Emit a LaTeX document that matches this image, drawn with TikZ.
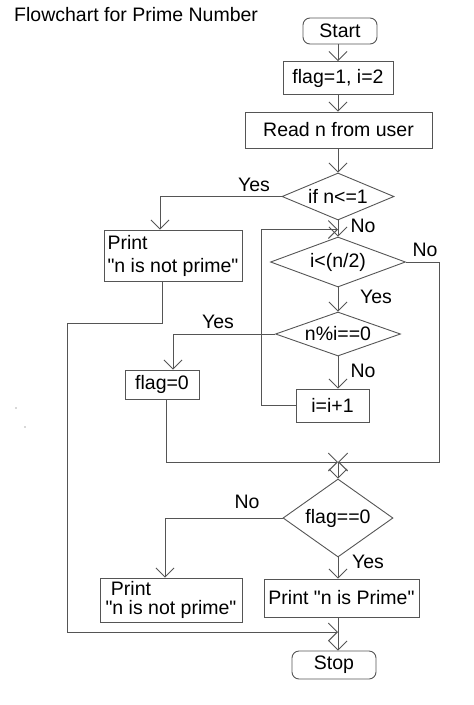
\documentclass[tikz,border=0pt]{standalone}
\usepackage{fontspec}
\setmainfont{Liberation Sans}[Ligatures=TeXOff]
\usetikzlibrary{shapes.geometric,arrows.meta}
\definecolor{lc}{RGB}{85,85,85}
\begin{document}
\begin{tikzpicture}[x=1pt,y=-1pt,
  every node/.style={font=\fontsize{19.5}{23}\selectfont, text=black},
  box/.style={draw=lc, line width=0.9pt, rectangle, inner sep=0pt},
  term/.style={box, rounded corners=7pt},
  dec/.style={draw=lc, line width=0.9pt, diamond, inner sep=0pt},
  conn/.style={draw=lc, line width=0.9pt},
  arr/.style={conn, -{Straight Barb[length=9pt,width=18pt]}},
  lbl/.style={inner sep=0pt}]
\useasboundingbox (0,0) rectangle (474,705);
\node[lbl, anchor=base west] (title) at (14,21.5) {Flowchart for Prime Number};
\node[term, minimum width=74, minimum height=26] (start) at (340,31) {Start};
\node[box, minimum width=110, minimum height=33] (init) at (338,78) {flag=1, i=2};
\node[box, minimum width=187, minimum height=36] (read) at (338.5,130) {Read n from user};
\node[dec, aspect=2.4, minimum width=112, minimum height=47] (d1) at (338,196.5) {if n<=1};
\node[box, minimum width=138, minimum height=51, align=left] (p1) at (173,255.5) {Print\\"n is not prime"};
\node[dec, aspect=2.7, minimum width=135, minimum height=50] (d2) at (338,262) {i<(n/2)};
\node[dec, aspect=2.8, minimum width=125, minimum height=44] (d3) at (338,334) {n\%i==0};
\node[box, minimum width=74, minimum height=29] (f0) at (162,384.5) {flag=0};
\node[box, minimum width=73, minimum height=33] (inc) at (332.5,405.5) {i=i+1};
\node[dec, aspect=1.4, minimum width=110, minimum height=78] (d4) at (338,518) {flag==0};
\node[box, minimum width=142, minimum height=44, align=left] (p2) at (171,600) {\ Print\\[-4pt]"n is not prime"};
\node[box, minimum width=155, minimum height=38] (p3) at (341.5,598) {Print "n is Prime"};
\node[term, minimum width=84, minimum height=28] (stop) at (334,665) {Stop};
% labels
\node[lbl] (l1) at (254,185) {Yes};
\node[lbl] (l2) at (363,226) {No};
\node[lbl] (l3) at (425,250) {No};
\node[lbl] (l4) at (376,297) {Yes};
\node[lbl] (l5) at (218,322) {Yes};
\node[lbl] (l6) at (363,371) {No};
\node[lbl] (l7) at (247,502) {No};
\node[lbl] (l8) at (368,562) {Yes};
% junctions
\coordinate (loop) at (338,229.5);
\coordinate (j1) at (338,462);
\coordinate (j2) at (338,632);
% connectors
\draw[arr] (start.south -| init) -- (init.north);
\draw[arr] (init.south) -- (init.south |- read.north);
\draw[arr] (read.south -| d1) -- (d1.north);
\draw[arr] (d1.west) -| ([xshift=-13pt]p1.north);
\draw[arr] ([xshift=-11pt]p1.south) -- ++(0,42) -| (67,632) -- (j2);
\draw[arr] (d1.south) -- (d2.north);
\draw[arr] (inc.west) -- ++(-34,0) |- (loop);
\draw[arr] (d2.east) -| (439,462) -- (j1);
\draw[arr] (d2.south) -- (d3.north);
\draw[arr] (d3.west) -| ([xshift=11pt]f0.north);
\draw[arr] (d3.south) -- (d3.south |- inc.north);
\draw[arr] ([xshift=4pt]f0.south) |- (j1);
\draw[arr] (j1) -- (d4.north);
\draw[arr] (d4.west) -| ([xshift=-6pt]p2.north);
\draw[arr] (d4.south) -- (d4.south |- p3.north);
\draw[arr] (d4.south |- p3.south) -- (d4.south |- stop.north);
% stray dots
\fill[lc] (16,408) circle (0.6);
\fill[lc] (25,427) circle (0.6);
\end{tikzpicture}
\end{document}
